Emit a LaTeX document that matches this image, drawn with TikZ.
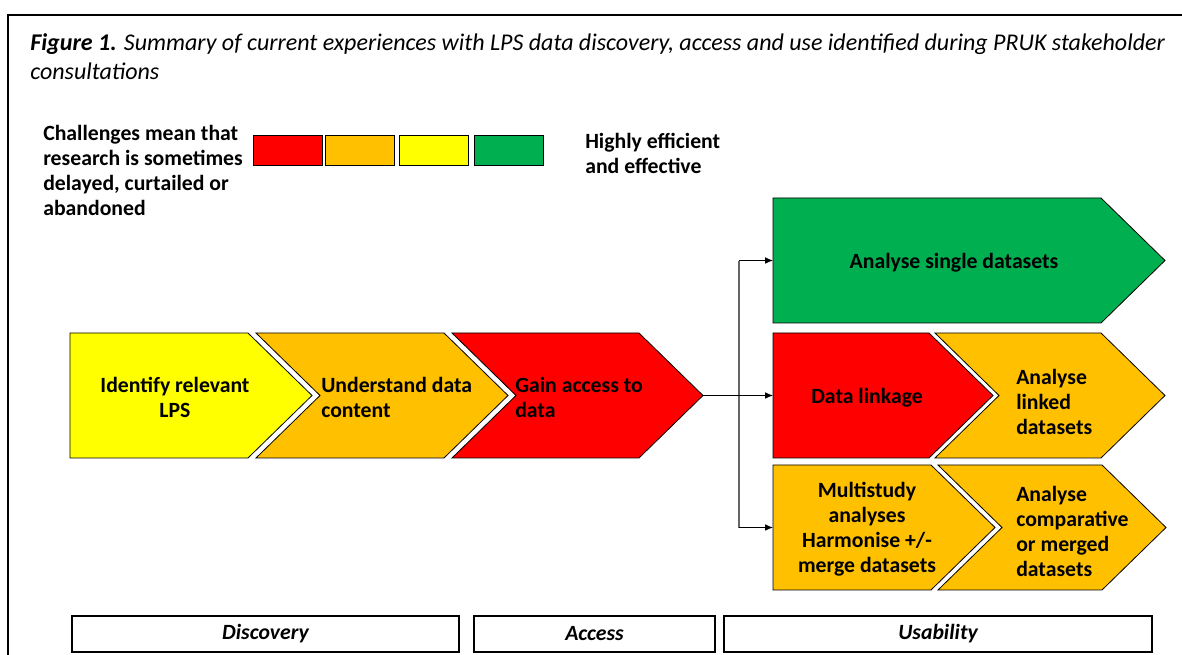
\documentclass[tikz,border=0pt]{standalone}
\usepackage{fontspec}
\setmainfont{Carlito}
\usetikzlibrary{arrows.meta}

% Chevron with a straight left edge: name, left x, corner x, top y, fill
\newcommand\pointer[5]{%
  \filldraw[chev, fill=#5] (#2,#4) -- (#3,#4) -- ({#3+64},{#4+62.5})
    -- (#3,{#4+125}) -- (#2,{#4+125}) -- cycle;
  \coordinate (#1-w) at (#2,{#4+62.5});
  \coordinate (#1-tip) at ({#3+64},{#4+62.5});
}
% Chevron with a notched left edge: name, left x, corner x, top y, fill
\newcommand\notched[5]{%
  \filldraw[chev, fill=#5] (#2,#4) -- (#3,#4) -- ({#3+64},{#4+62.5})
    -- (#3,{#4+125}) -- (#2,{#4+125}) -- ({#2+64},{#4+62.5}) -- cycle;
  \coordinate (#1-w) at ({#2+64},{#4+62.5});
  \coordinate (#1-tip) at ({#3+64},{#4+62.5});
}

\definecolor{cred}{HTML}{FF0000}
\definecolor{corange}{HTML}{FFC000}
\definecolor{cyellow}{HTML}{FFFF00}
\definecolor{cgreen}{HTML}{00B050}

\begin{document}
\begin{tikzpicture}[
  x=0.75pt, y=-0.75pt,
  chev/.style={draw=black, line width=0.6pt, line join=miter},
  lbl/.style={font=\bfseries\fontsize{16.3}{18.75}\selectfont, align=center, inner sep=0pt, yshift=-1.2pt},
  lbll/.style={lbl, align=left},
  swatch/.style={draw=black, line width=0.7pt, minimum width=51.75pt, minimum height=22.5pt, inner sep=0pt},
  catbox/.style={draw=black, line width=0.8pt, minimum height=27pt, inner sep=0pt,
    font=\bfseries\itshape\fontsize{16.3}{18.75}\selectfont},
  link/.style={line width=0.6pt, -{Latex[length=6pt,width=5pt]}},
]
\useasboundingbox (0,0) rectangle (1182,655);

% outer frame (open to the right and bottom)
\draw[line width=1.5pt] (8,655) -- (8,15) -- (1182,15);

% caption
\node[anchor=west, align=left, inner sep=0pt,
      font=\itshape\fontsize{18}{21.75}\selectfont] (caption) at (30,57)
  {{\bfseries Figure 1.} Summary of current experiences with LPS data discovery, access and use identified during PRUK stakeholder\\consultations};

% colour scale
\node[lbll, anchor=west] (scalelow) at (43,168.5)
  {Challenges mean that\\research is sometimes\\delayed, curtailed or\\abandoned};
\node[swatch, fill=cred]    (sw1) at (287.5,150) {};
\node[swatch, fill=corange] (sw2) at (360,150) {};
\node[swatch, fill=cyellow] (sw3) at (434,150) {};
\node[swatch, fill=cgreen]  (sw4) at (509,150) {};
\node[lbll, anchor=west] (scalehigh) at (585,151.5) {Highly efficient\\and effective};

% discovery and access chain
\pointer{identify}{70}{248}{333}{cyellow}
\notched{understand}{256}{444}{333}{corange}
\notched{gain}{452}{639}{333}{cred}
\node[lbl] (identifyt) at (175,396) {Identify relevant\\LPS};
\node[lbll, anchor=west] (understandt) at (321,396) {Understand data\\content};
\node[lbll, anchor=west] (gaint) at (515,396) {Gain access to\\data};

% usability routes
\pointer{single}{773}{1101}{198}{cgreen}
\pointer{linkage}{773}{929}{333}{cred}
\notched{linked}{935}{1101}{333}{corange}
\pointer{multi}{773}{931}{465}{corange}
\notched{merged}{938}{1102}{465}{corange}
\node[lbl] (singlet) at (954,261) {Analyse single datasets};
\node[lbl] (linkaget) at (867,396) {Data linkage};
\node[lbll, anchor=west] (linkedt) at (1016,400) {Analyse\\linked\\datasets};
\node[lbl] (multit) at (867,528) {Multistudy\\analyses\\Harmonise +/-\\merge datasets};
\node[lbll, anchor=west] (mergedt) at (1016,529.5) {Analyse\\comparative\\or merged\\datasets};

% connectors
\coordinate (split) at (739,396);
\draw[gray!80!black, line width=0.8pt] (739,261) -- (739,528);
\draw[link] (gain-tip) -- (linkage-w);
\draw[link] (split |- single-w) -- (single-w);
\draw[link] (split |- multi-w) -- (multi-w);

% stage labels
\node[catbox, minimum width=290.25pt] (discovery) at (265.5,634) {\raisebox{-1.2pt}{Discovery}};
\node[catbox, minimum width=180.75pt] (access) at (594.5,634) {\raisebox{-1.2pt}{Access}};
\node[catbox, minimum width=321pt] (usability) at (938,634) {\raisebox{-1.2pt}{Usability}};
\end{tikzpicture}
\end{document}
